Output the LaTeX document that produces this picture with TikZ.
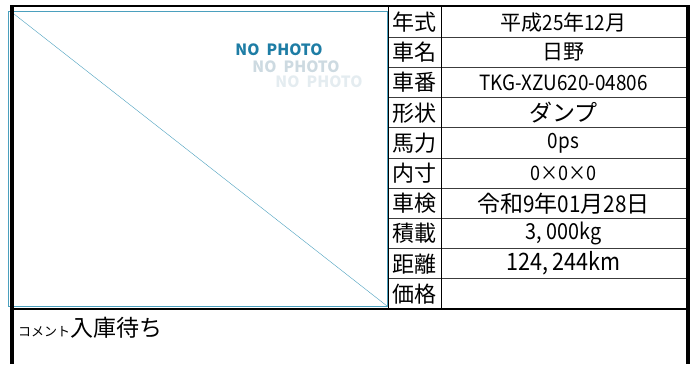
\documentclass[tikz,border=0pt]{standalone}
\usepackage{fontspec}
\setmainfont{Noto Sans CJK JP}
\newfontfamily\hw[FakeStretch=0.9]{Noto Sans CJK JP}
\usetikzlibrary{positioning, calc}

\definecolor{photoblue}{RGB}{75,160,190}
\definecolor{nophoto}{RGB}{30,125,165}
\definecolor{nophotob}{RGB}{205,218,225}
\definecolor{nophotoc}{RGB}{228,236,240}
\definecolor{gridgray}{RGB}{60,60,60}

\tikzset{
    labcell/.style={inner sep=0pt, font=\fontsize{22}{22}\selectfont},
    valcell/.style={inner sep=0pt},
    nptext/.style={inner sep=0pt, font=\fontsize{15.5}{15.5}\selectfont\bfseries},
}

\begin{document}
\begin{tikzpicture}[x=1pt, y=-1pt]
\useasboundingbox (0,0) rectangle (693,364);

% photo box
\draw[photoblue] (8,11) rectangle (387,306);
\coordinate (ptl) at (14,14);
\coordinate (pbr) at (387,306);
\draw[photoblue] (ptl) -- (pbr);
\node[nptext, text=nophotoc] (np3) at (319,82) {NO\ \ PHOTO};
\node[nptext, text=nophotob] (np2) at (296,67) {NO\ \ PHOTO};
\node[nptext, text=nophoto] (np1) at (279,50) {NO\ \ PHOTO};

% table rows
\foreach \lab/\val/\sz [count=\i from 0] in {
    年式/{平成{\hw 25}年{\hw 12}月}/21,
    車名/{日野}/21,
    車番/{\hw TKG-XZU620-04806}/21,
    形状/{ダンプ}/23,
    馬力/{\hw 0ps}/21,
    内寸/{\hw 0×0×0}/20,
    車検/{令和{\hw 9}年{\hw 01}月{\hw 28}日}/23,
    積載/{\hw 3,\hspace{0.2em}000kg}/22,
    距離/{\hw 124,\hspace{0.2em}244km}/24,
    価格/{}/20}
{
    \node[labcell] (lab\i) at (414.5,{7+30.2*(\i+0.5)}) {\lab};
    \node[valcell, font=\fontsize{\sz}{\sz}\selectfont] (val\i) at (563.5,{7+30.2*(\i+0.5)}) {\val};
}

% grid
\foreach \k in {1,...,9}
    \draw[gridgray, line width=1pt] (388,{7+30.2*\k}) -- (686,{7+30.2*\k});
\draw[line width=1pt] (388,7) -- (388,309);
\draw[line width=1pt] (441,7) -- (441,309);
\draw[line width=1.5pt] (12,309) -- (686,309);

% outer frame
\draw[line width=2pt] (10,6) -- (690,6);
\draw[line width=4pt] (12,5) -- (12,364);
\draw[line width=4pt] (688,5) -- (688,364);

% comment
\node[inner sep=0pt, anchor=base west] (comment) at (18,336)
    {{\fontsize{13}{13}\selectfont コメント}{\fontsize{23}{23}\selectfont 入庫待ち}};
\end{tikzpicture}
\end{document}
